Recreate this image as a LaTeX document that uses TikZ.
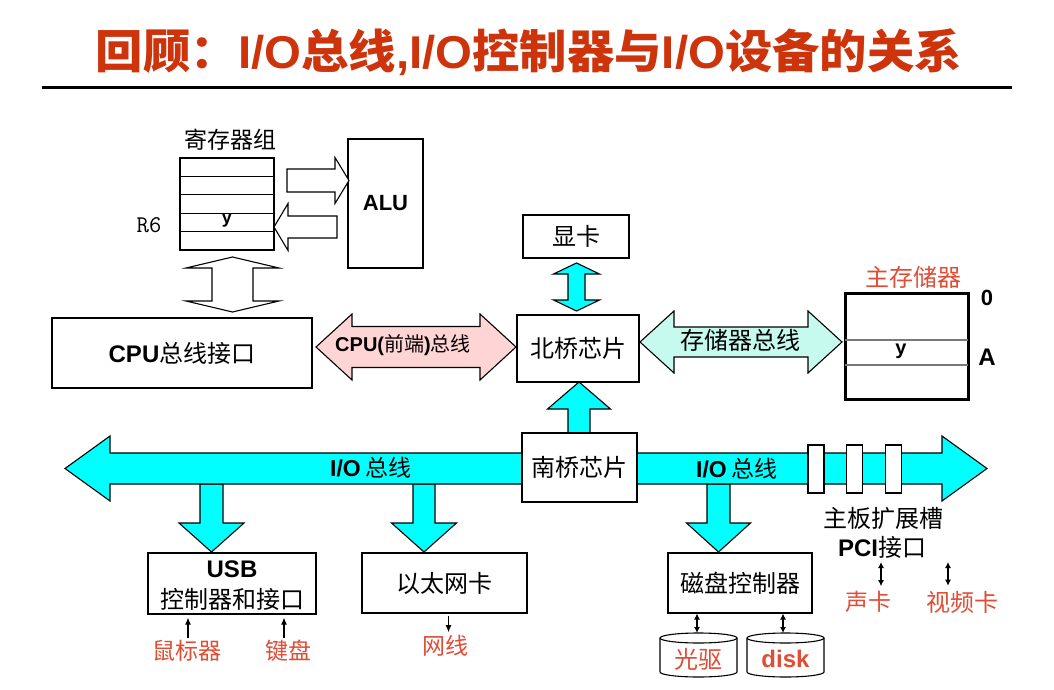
\documentclass[tikz,border=0pt]{standalone}
\usepackage{fontspec}
\setmainfont{Liberation Sans}
\newfontfamily\zh{Noto Sans CJK SC}
\usetikzlibrary{arrows.meta,calc}

\definecolor{titlered}{RGB}{206,52,12}
\definecolor{labelred}{RGB}{224,76,52}
\definecolor{buscyan}{RGB}{0,255,255}
\definecolor{fsbpink}{RGB}{255,212,212}
\definecolor{memmint}{RGB}{198,250,238}
\definecolor{rowgray}{RGB}{120,120,120}

% Latin text in bold sans inside Chinese labels
\newcommand\en[1]{{\rmfamily\bfseries #1}}
\newcommand\fs[1]{\fontsize{#1}{#1}\selectfont}

% horizontal double block arrow: style, xL, xR, yc, shaft half, head half, head length
\newcommand\arrowLR[7]{\draw[#1] ({#2},{#4}) -- ({#2+#7},{#4-#6}) -- ({#2+#7},{#4-#5}) -- ({#3-#7},{#4-#5}) -- ({#3-#7},{#4-#6}) -- ({#3},{#4}) -- ({#3-#7},{#4+#6}) -- ({#3-#7},{#4+#5}) -- ({#2+#7},{#4+#5}) -- ({#2+#7},{#4+#6}) -- cycle;}
% vertical double block arrow: style, xc, yTop, yBottom, shaft half, head half, head length
\newcommand\arrowUD[7]{\draw[#1] ({#2},{#3}) -- ({#2+#6},{#3+#7}) -- ({#2+#5},{#3+#7}) -- ({#2+#5},{#4-#7}) -- ({#2+#6},{#4-#7}) -- ({#2},{#4}) -- ({#2-#6},{#4-#7}) -- ({#2-#5},{#4-#7}) -- ({#2-#5},{#3+#7}) -- ({#2-#6},{#3+#7}) -- cycle;}
% horizontal single block arrow: style, xTail, xTip, yc, shaft half, head half, signed head length
\newcommand\arrowH[7]{\draw[#1] ({#2},{#4-#5}) -- ({#3-(#7)},{#4-#5}) -- ({#3-(#7)},{#4-#6}) -- ({#3},{#4}) -- ({#3-(#7)},{#4+#6}) -- ({#3-(#7)},{#4+#5}) -- ({#2},{#4+#5}) -- cycle;}
% vertical single block arrow: style, xc, yTail, yTip, shaft half, head half, signed head length
\newcommand\arrowV[7]{\draw[#1] ({#2-#5},{#3}) -- ({#2-#5},{#4-(#7)}) -- ({#2-#6},{#4-(#7)}) -- ({#2},{#4}) -- ({#2+#6},{#4-(#7)}) -- ({#2+#5},{#4-(#7)}) -- ({#2+#5},{#3}) -- cycle;}

\tikzset{
  box/.style={draw, line width=1.1pt, fill=white, inner sep=0pt, font=\zh\fs{24}},
  lbl/.style={inner sep=0pt, font=\zh\fs{24}},
  redlbl/.style={lbl, text=labelred},
  bar/.style={draw, line width=1.1pt, fill=buscyan},
  hollow/.style={draw, line width=1.1pt, fill=white},
  thinarrow/.style={line width=1.1pt, -{Latex[length=7pt,width=6pt]}},
  thinboth/.style={line width=1.1pt, {Latex[length=6pt,width=6pt]}-{Latex[length=6pt,width=6pt]}},
}

\begin{document}
\begin{tikzpicture}[x=1pt,y=-1pt]
\useasboundingbox (0,0) rectangle (1054,690);

% heading
\node[inner sep=0pt, font=\zh\bfseries\fs{46}, text=titlered, xscale=1.03] (title) at (529,52)
  {回顾：\en{I/O}总线\en{,}\en{I/O}控制器与\en{I/O}设备的关系};
\draw[line width=3pt] (42,88) -- (1012,88);

% register file
\node[draw, line width=1.1pt, minimum width=94, minimum height=92, inner sep=0pt] (regs) at (227,204) {};
\foreach \i in {1,...,4}
  \draw[line width=1.1pt] ($(regs.north west)!\i/5!(regs.south west)$) -- ($(regs.north east)!\i/5!(regs.south east)$);
\node[inner sep=0pt, font=\bfseries\fs{18}] (regy) at (227,221) {y};
\node[inner sep=0pt, font=\ttfamily\fs{24}] (r6) at (149,225) {R6};
\node[lbl, font=\zh\fs{23}] (regname) at (230,140) {寄存器组};

% ALU
\node[box, minimum width=75, minimum height=129, font=\bfseries\fs{22}] (alu) at (385.5,203.5) {ALU};
\arrowH{hollow}{287}{349}{180.5}{11.5}{23}{14}
\arrowH{hollow}{337}{274}{227}{11}{23.5}{-14}

% register file <-> CPU bus interface
\arrowUD{hollow}{232.5}{257}{312}{20.5}{46.5}{11}
\node[box, minimum width=260, minimum height=70] (cpu) at (182,353) {\en{CPU}总线接口};

% front side bus
\arrowLR{draw, line width=1.1pt, fill=fsbpink}{316}{516}{347}{20.5}{33}{36}
\node[lbl, font=\zh\fs{20}] (fsb) at (403,345) {\en{CPU(}前端\en{)}总线};

% graphics card and north bridge
\node[box, minimum width=106, minimum height=43] (gpu) at (576,236.5) {显卡};
\arrowUD{bar}{576.5}{263}{311}{8.5}{23}{11}
\node[box, minimum width=122, minimum height=67] (nb) at (578,348.5) {北桥芯片};

% memory bus and main memory
\arrowLR{draw, line width=1.1pt, fill=memmint}{640}{842}{342}{15}{31}{34}
\node[lbl] (membus) at (740,340) {存储器总线};
\node[draw, line width=3pt, minimum width=123, minimum height=106, inner sep=0pt] (mem) at (906.5,346) {};
\draw[line width=1.6pt, rowgray] ([xshift=1.5pt]mem.west |- 0,340) -- ([xshift=-1.5pt]mem.east |- 0,340);
\draw[line width=1.6pt, rowgray] ([xshift=1.5pt]mem.west |- 0,365) -- ([xshift=-1.5pt]mem.east |- 0,365);
\node[inner sep=0pt, font=\bfseries\fs{20}] (memy) at (901,351) {y};
\node[redlbl] (memname) at (913,277) {主存储器};
\node[inner sep=0pt, font=\bfseries\fs{22}] (addr0) at (987,298) {0};
\node[inner sep=0pt, font=\bfseries\fs{24}] (addrA) at (987,357) {A};

% I/O bus with its branches
\arrowV{bar}{211.5}{484}{552}{11.5}{32.5}{29}
\arrowV{bar}{424}{484}{552}{11}{32.5}{29}
\arrowV{bar}{718.5}{484}{552}{11.5}{32}{29}
\arrowLR{bar}{65}{987}{468.5}{15.5}{32.5}{45}
\node[lbl, font=\zh\fs{23}] (busL) at (371,468) {\en{I/O}\hspace{5pt}总线};
\node[lbl, font=\zh\fs{23}] (busR) at (737,469) {\en{I/O}\hspace{5pt}总线};

% expansion slots
\foreach \sx/\nm in {816/slotA, 854.5/slotB, 893.5/slotC}
  \node[draw, line width=1.1pt, fill=white, minimum width=16, minimum height=48, inner sep=0pt] (\nm) at (\sx,469) {};
\node[lbl] (slots) at (883,518) {主板扩展槽};
\node[lbl] (pci) at (882,547) {\en{PCI}接口};

% south bridge
\arrowV{bar}{579}{433}{382}{11}{31.5}{-27}
\node[box, minimum width=115, minimum height=69] (sb) at (579.5,467.5) {南桥芯片};

% USB controller
\node[box, minimum width=168, minimum height=61] (usb) at (232,583.5) {};
\node[inner sep=0pt, font=\bfseries\fs{24}] (usbname) at (232,569) {USB};
\node[lbl] (usbsub) at (232,599) {控制器和接口};
\node[redlbl, font=\zh\fs{23}] (mouse) at (187,651) {鼠标器};
\node[redlbl, font=\zh\fs{23}] (kbd) at (288,651) {键盘};
\draw[thinarrow] ([xshift=1pt,yshift=2pt]mouse.north) -- ([xshift=1pt,yshift=-3pt]mouse.north |- usb.south);
\draw[thinarrow] ([xshift=-4pt,yshift=2pt]kbd.north) -- ([xshift=-4pt,yshift=-3pt]kbd.north |- usb.south);

% ethernet card
\node[box, minimum width=165, minimum height=60] (eth) at (444.5,583) {以太网卡};
\node[redlbl, font=\zh\fs{23}] (net) at (445,646) {网线};
\draw[thinarrow] ([xshift=4pt,yshift=-2pt]eth.south) -- ([xshift=4pt,yshift=3pt]eth.south |- net.north);

% disk controller and drives
\node[box, minimum width=144, minimum height=60] (dctl) at (740,583) {磁盘控制器};
\foreach \cx in {698.5,785.5}
{
  \draw[line width=1.1pt, fill=white] ({\cx-38.5},638) -- ({\cx-38.5},672)
    arc[start angle=180, end angle=360, x radius=38.5pt, y radius=5pt] -- ({\cx+38.5},638)
    arc[start angle=0, end angle=180, x radius=38.5pt, y radius=5pt] -- cycle;
  \draw[line width=1.1pt] ({\cx-38.5},638) arc[start angle=180, end angle=360, x radius=38.5pt, y radius=5pt];
}
\node[redlbl] (optical) at (698.5,659) {光驱};
\node[redlbl] (disk) at (785.5,659) {\en{disk}};
\coordinate (odtop) at (697,633);
\coordinate (hdtop) at (783,633);
\draw[thinboth] (odtop |- dctl.south) -- (odtop);
\draw[thinboth] (hdtop |- dctl.south) -- (hdtop);

% PCI cards
\node[redlbl, font=\zh\fs{23}] (sound) at (868,602) {声卡};
\node[redlbl] (video) at (962,602) {视频卡};
\coordinate (sndtop) at (881,562);
\coordinate (vidtop) at (948,562);
\draw[thinboth] (sndtop) -- ($(sndtop |- sound.north)+(0,-5)$);
\draw[thinboth] (vidtop) -- ($(vidtop |- video.north)+(0,-5)$);
\end{tikzpicture}
\end{document}
